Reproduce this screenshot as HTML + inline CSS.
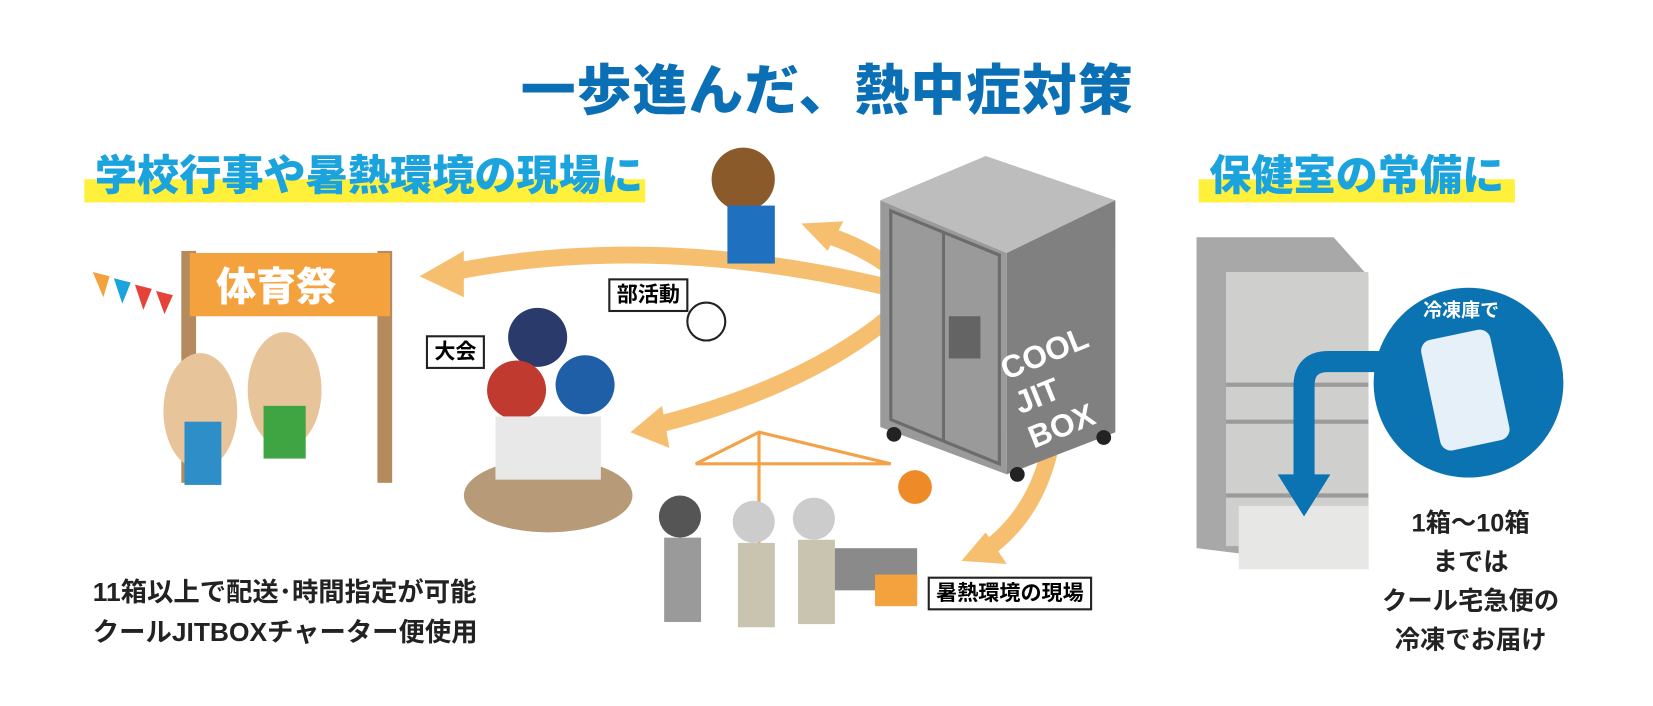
<!DOCTYPE html>
<html><head><meta charset="utf-8"><style>
body{margin:0;width:1653px;height:706px;background:#fff;position:relative;overflow:hidden;font-family:"Liberation Sans","Noto Sans CJK JP",sans-serif}
#c{position:absolute;left:0;top:0;width:1568px;height:670px;transform:scale(1.0542);transform-origin:0 0}
.t{position:absolute;white-space:nowrap}
.lab{position:absolute;border:2px solid #222;background:#fff;font-size:20px;font-weight:bold;padding:1px 6px;line-height:26px}
</style></head><body><div id="c">
<div class="t" style="left:494px;top:44px;font-size:52px;font-weight:900;color:#0b6fb6;letter-spacing:1px">一歩進んだ、熱中症対策</div>
<div style="position:absolute;left:80px;top:170px;width:532px;height:22px;background:#fff03c"></div>
<div class="t" style="left:90px;top:134px;font-size:40px;font-weight:900;color:#1aa3dc">学校行事や暑熱環境の現場に</div>
<div style="position:absolute;left:1137px;top:170px;width:300px;height:22px;background:#fff03c"></div>
<div class="t" style="left:1147px;top:134px;font-size:40px;font-weight:900;color:#1aa3dc">保健室の常備に</div>

<svg width="1568" height="670" style="position:absolute;left:0;top:0">
<g fill="none" stroke="#f6bf6f" stroke-width="16">
<path d="M840 272 Q620 220 430 258"/>
<path d="M840 250 Q810 230 780 222"/>
<path d="M845 300 Q760 370 615 405"/>
<path d="M995 430 Q980 490 935 522"/>
</g>
<g fill="#f6bf6f">
<polygon points="398,262 440,238 440,282"/>
<polygon points="760,212 800,210 785,238"/>
<polygon points="598,410 628,385 635,425"/>
<polygon points="912,532 935,505 955,535"/>
</g>
<polygon points="835,190 935,148 1058,190 955,240" fill="#bdbdbd"/>
<polygon points="835,190 955,240 955,450 835,405" fill="#9a9a9a"/>
<polygon points="955,240 1058,190 1058,410 955,450" fill="#808080"/>
<polygon points="845,200 948,242 948,440 845,398" fill="none" stroke="#6c6c6c" stroke-width="3"/>
<line x1="895" y1="220" x2="895" y2="418" stroke="#6c6c6c" stroke-width="3"/>
<rect x="900" y="300" width="30" height="40" fill="#646464"/>
<circle cx="848" cy="412" r="7" fill="#222"/><circle cx="1047" cy="415" r="7" fill="#222"/><circle cx="965" cy="450" r="7" fill="#222"/>
<g fill="#fff" font-size="30" font-weight="bold" font-family="Liberation Sans,sans-serif" transform="rotate(-22 1000 380)">
<text x="965" y="345">COOL</text><text x="965" y="380">JIT</text><text x="965" y="415">BOX</text></g>
<polygon points="1135,225 1265,225 1298,262 1298,540 1135,520" fill="#a8a8a8"/>
<rect x="1163" y="258" width="135" height="260" fill="#cfcfcd"/>
<line x1="1163" y1="365" x2="1298" y2="365" stroke="#9b9b9b" stroke-width="4"/>
<line x1="1163" y1="400" x2="1298" y2="400" stroke="#9b9b9b" stroke-width="4"/>
<line x1="1163" y1="470" x2="1298" y2="470" stroke="#9b9b9b" stroke-width="4"/>
<rect x="1175" y="480" width="123" height="60" fill="#e7e7e5"/>
<circle cx="1393" cy="363" r="90" fill="#0b73b2"/>
<text x="1350" y="300" fill="#fff" font-size="18" font-weight="bold">冷凍庫で</text>
<rect x="1355" y="315" width="70" height="110" rx="12" fill="#e6f0f8" stroke="#0b73b2" stroke-width="3" transform="rotate(-12 1390 370)"/>
<path d="M1330 343 H1260 Q1237 343 1237 366 V460" fill="none" stroke="#0b73b2" stroke-width="20"/>
<polygon points="1212,450 1262,450 1237,490" fill="#0b73b2"/>
<rect x="172" y="238" width="14" height="220" fill="#b58a5c"/><rect x="358" y="238" width="14" height="220" fill="#b58a5c"/>
<rect x="180" y="240" width="190" height="60" fill="#f3a23e"/>
<text x="205" y="285" fill="#fff" font-size="38" font-weight="900">体育祭</text>
<polygon points="88,258 104,262 98,282" fill="#f3a23e"/><polygon points="108,264 124,268 116,288" fill="#1aa3dc"/><polygon points="128,270 144,274 136,294" fill="#e5423a"/><polygon points="148,276 164,280 156,298" fill="#e5423a"/>
<ellipse cx="190" cy="390" rx="35" ry="55" fill="#e8c49a"/><ellipse cx="270" cy="370" rx="35" ry="55" fill="#e8c49a"/>
<rect x="250" y="385" width="40" height="50" fill="#3fa542"/><rect x="175" y="400" width="35" height="60" fill="#2e8fc8"/>
<ellipse cx="520" cy="470" rx="80" ry="35" fill="#b79a78"/>
<circle cx="510" cy="320" r="28" fill="#2a3a6a"/><circle cx="490" cy="370" r="28" fill="#c03a30"/><circle cx="555" cy="365" r="28" fill="#1e5fa8"/>
<rect x="470" y="395" width="100" height="60" fill="#e8e8e8"/>
<circle cx="705" cy="170" r="30" fill="#8a5a2a"/><rect x="690" y="195" width="45" height="55" fill="#2070c0"/>
<circle cx="670" cy="305" r="18" fill="#fff" stroke="#222" stroke-width="2"/>
<g stroke="#f4a24a" stroke-width="3" fill="none"><path d="M660 440 L845 440 L720 410 Z"/><line x1="720" y1="410" x2="720" y2="560"/></g>
<circle cx="868" cy="462" r="16" fill="#ee8a28"/>
<rect x="790" y="520" width="80" height="40" fill="#8a8a8a"/><rect x="830" y="545" width="40" height="30" fill="#f3a23e"/>
<circle cx="645" cy="490" r="20" fill="#555"/><rect x="630" y="510" width="35" height="80" fill="#9a9a9a"/>
<circle cx="715" cy="495" r="20" fill="#ccc"/><rect x="700" y="515" width="35" height="80" fill="#c9c4b0"/>
<circle cx="772" cy="492" r="20" fill="#ccc"/><rect x="757" y="512" width="35" height="80" fill="#c9c4b0"/>
</svg>

<div class="lab" style="left:577px;top:264px">部活動</div>
<div class="lab" style="left:404px;top:318px">大会</div>
<div class="lab" style="left:880px;top:547px">暑熱環境の現場</div>

<div class="t" style="left:88px;top:543px;font-size:25px;font-weight:bold;color:#222;line-height:38px">11箱以上で配送･時間指定が可能<br>クールJITBOXチャーター便使用</div>
<div class="t" style="left:1295px;top:478px;width:200px;text-align:center;font-size:24px;font-weight:bold;color:#222;line-height:37px">1箱～10箱<br>までは<br>クール宅急便の<br>冷凍でお届け</div>
</div></body></html>
